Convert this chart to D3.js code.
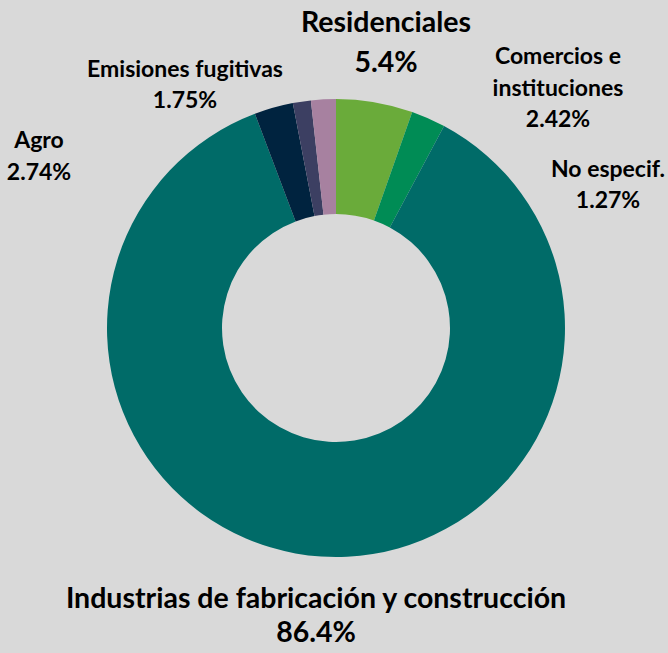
<!DOCTYPE html>
<meta charset="utf-8">
<script src="https://d3js.org/d3.v7.min.js"></script>
<style>
body { margin: 0; background: #d9d9d9; }
svg { display: block; }
text { font-family: Lato, "Noto Sans", sans-serif; font-weight: bold; fill: #000; }
</style>
<body>
<script>

// sectors, clockwise from 12 o'clock
var sectors = ["Residenciales", "Comercios e instituciones", "Industrias de fabricación y construcción",
               "Agro", "No especif.", "Emisiones fugitivas"];
var shares  = [5.4, 2.42, 86.4, 2.74, 1.27, 1.75];
var shareLabels = ["5.4%", "2.42%", "86.4%", "2.74%", "1.27%", "1.75%"];
var colors  = ["#6aab3a", "#008c55", "#006b68", "#00233f", "#3c3f62", "#a781a0"];

// label lines for each sector (how the name wraps)
var nameLines = [["Residenciales"], ["Comercios e", "instituciones"],
                 ["Industrias de fabricación y construcción"], ["Agro"], ["No especif."], ["Emisiones fugitivas"]];

var width = 668, height = 653;
var cx = 336, cy = 328, outerR = 229, innerR = 114;

var svg = d3.select("body").append("svg")
    .attr("width", width)
    .attr("height", height);

var data = sectors.map(function(s, i) {
  return { name: s, value: shares[i], label: shareLabels[i], color: colors[i], lines: nameLines[i] };
});

var pie = d3.pie().sort(null).value(function(d) { return d.value; });
var arc = d3.arc().innerRadius(innerR).outerRadius(outerR);

svg.append("g")
    .attr("transform", "translate(" + cx + "," + cy + ")")
  .selectAll("path")
  .data(pie(data))
  .enter().append("path")
    .attr("d", arc)
    .attr("fill", function(d) { return d.data.color; });

// label placement: x centre, first baseline, font size, line step
var labelPos = [
  { x: 386, y: 32, size: 28.5, step: 40 },
  { x: 558, y: 64, size: 23, step: 31.5 },
  { x: 316, y: 608, size: 28.5, step: 34 },
  { x: 39, y: 148, size: 23, step: 32 },
  { x: 608, y: 177, size: 23, step: 31 },
  { x: 185, y: 77, size: 23, step: 31 }
];

var labels = svg.append("g").selectAll("text")
  .data(data)
  .enter().append("text")
    .attr("text-anchor", "middle")
    .attr("font-size", function(d, i) { return labelPos[i].size; });

labels.each(function(d, i) {
  var p = labelPos[i];
  var t = d3.select(this);
  d.lines.concat([d.label]).forEach(function(line, j) {
    t.append("tspan")
      .attr("x", p.x)
      .attr("y", p.y + j * p.step)
      .text(line);
  });
});

</script>
</body>
